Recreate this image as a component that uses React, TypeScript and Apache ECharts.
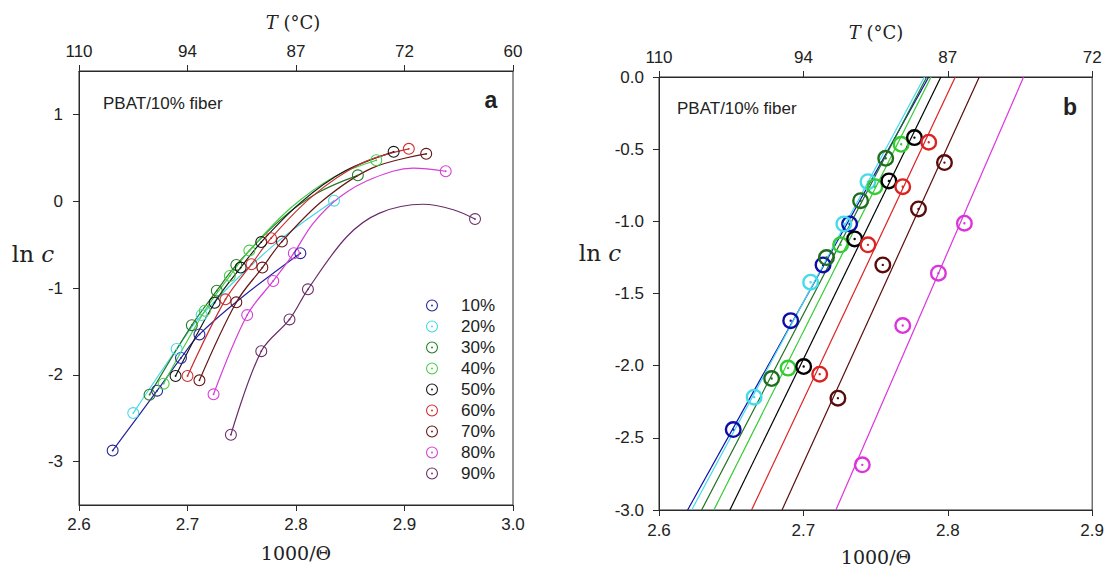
import React, { useEffect, useRef } from "react";
import * as echarts from "echarts";

// ---------- data ----------
const names = ["10%", "20%", "30%", "40%", "50%", "60%", "70%", "80%", "90%"];
const colorsA = ["#22229e", "#44d8e4", "#237a23", "#46cc46", "#151515", "#cc2e2e", "#661414", "#d63cd6", "#6a2c68"];
const colorsB = ["#0c0ca8", "#44dcec", "#1e6e1e", "#33cc33", "#000000", "#dd2222", "#5a0c0c", "#dd33dd", "#6a2c68"];

const xTicksA = ["2.6", "2.7", "2.8", "2.9", "3.0"];
const topTicksA = ["110", "94", "87", "72", "60"];
const yTicksA = [-3, -2, -1, 0, 1];
const xTicksB = ["2.6", "2.7", "2.8", "2.9"];
const topTicksB = ["110", "94", "87", "72"];

// panel a: measured points (1000/Θ, ln c)
const a10 = [[2.631, -2.873], [2.672, -2.183], [2.694, -1.806], [2.711, -1.535], [2.804, -0.599]];
const a20 = [[2.650, -2.441], [2.690, -1.703], [2.713, -1.312], [2.835, 0.006]];
const a30 = [[2.665, -2.229], [2.704, -1.428], [2.727, -1.031], [2.745, -0.734], [2.857, 0.298]];
const a40 = [[2.678, -2.102], [2.716, -1.262], [2.739, -0.861], [2.757, -0.569], [2.874, 0.472]];
const a50 = [[2.689, -2.014], [2.725, -1.170], [2.749, -0.765], [2.768, -0.471], [2.890, 0.569]];
const a60 = [[2.700, -2.014], [2.735, -1.131], [2.759, -0.726], [2.777, -0.426], [2.904, 0.603]];
const a70 = [[2.711, -2.064], [2.745, -1.165], [2.769, -0.765], [2.787, -0.465], [2.920, 0.546]];
const a80 = [[2.724, -2.225], [2.755, -1.312], [2.779, -0.919], [2.798, -0.599], [2.938, 0.345]];
const a90 = [[2.740, -2.691], [2.768, -1.728], [2.794, -1.362], [2.811, -1.015], [2.965, -0.206]];

// panel a: points
const c10 = [[2.631, -2.873], [2.672, -2.183], [2.694, -1.806], [2.711, -1.535], [2.752, -1.09], [2.804, -0.599]];
const c20 = [[2.650, -2.441], [2.690, -1.703], [2.713, -1.312], [2.780, -0.50], [2.835, 0.006]];
const c30 = [[2.665, -2.229], [2.704, -1.428], [2.727, -1.031], [2.745, -0.734], [2.785, -0.221], [2.820, 0.097], [2.857, 0.298]];
const c40 = [[2.678, -2.102], [2.716, -1.262], [2.739, -0.861], [2.757, -0.569], [2.795, -0.079], [2.835, 0.279], [2.874, 0.472]];
const c50 = [[2.689, -2.014], [2.725, -1.170], [2.749, -0.765], [2.768, -0.471], [2.805, -0.008], [2.845, 0.347], [2.890, 0.569]];
const c60 = [[2.700, -2.014], [2.735, -1.131], [2.759, -0.726], [2.777, -0.426], [2.815, 0.056], [2.860, 0.434], [2.904, 0.603]];
const c70 = [[2.711, -2.064], [2.745, -1.165], [2.769, -0.765], [2.787, -0.465], [2.825, 0.011], [2.870, 0.381], [2.920, 0.546]];
const c80 = [[2.724, -2.225], [2.755, -1.312], [2.779, -0.919], [2.798, -0.599], [2.816, -0.252], [2.841, 0.054], [2.871, 0.265], [2.908, 0.380], [2.938, 0.345]];
const c90 = [[2.740, -2.691], [2.768, -1.728], [2.794, -1.362], [2.811, -1.015], [2.847, -0.407], [2.877, -0.137], [2.917, -0.035], [2.945, -0.098], [2.965, -0.206]];

// panel b: measured points
const b10 = [[2.6514, -2.443], [2.6912, -1.688], [2.7136, -1.302], [2.7320, -1.018]];
const b20 = [[2.6659, -2.218], [2.7050, -1.422], [2.7280, -1.018], [2.7447, -0.725]];
const b30 = [[2.6780, -2.089], [2.7160, -1.251], [2.7396, -0.857], [2.7570, -0.563]];
const b40 = [[2.6894, -2.017], [2.7258, -1.163], [2.7495, -0.760], [2.7677, -0.466]];
const b50 = [[2.7002, -2.006], [2.7355, -1.122], [2.7592, -0.720], [2.7769, -0.420]];
const b60 = [[2.7113, -2.059], [2.7447, -1.163], [2.7688, -0.760], [2.7868, -0.452]];
const b70 = [[2.7239, -2.225], [2.7550, -1.302], [2.7797, -0.914], [2.7977, -0.593]];
const b80 = [[2.7408, -2.687], [2.7688, -1.722], [2.7935, -1.359], [2.8115, -1.013]];

// panel b: linear fits, read where each line meets ln c = -3.0 and ln c = 0.0
const fitB = [
  [[2.6198, -3.0], [2.7868, 0.0]],
  [[2.6226, -3.0], [2.7838, 0.0]],
  [[2.6295, -3.0], [2.7854, 0.0]],
  [[2.6380, -3.0], [2.7884, 0.0]],
  [[2.6491, -3.0], [2.7952, 0.0]],
  [[2.6641, -3.0], [2.8052, 0.0]],
  [[2.6852, -3.0], [2.8218, 0.0]],
  [[2.7225, -3.0], [2.8525, 0.0]],
];

const ptsA = [a10, a20, a30, a40, a50, a60, a70, a80, a90];
const curvesA = [c10, c20, c30, c40, c50, c60, c70, c80, c90];
const ptsB = [b10, b20, b30, b40, b50, b60, b70, b80];

// ---------- styling ----------
const ringThin =
  "path://M0 10A10 10 0 1 1 20 10A10 10 0 1 1 0 10Z M1.8 10A8.2 8.2 0 1 0 18.2 10A8.2 8.2 0 1 0 1.8 10Z M8.5 10A1.5 1.5 0 1 1 11.5 10A1.5 1.5 0 1 1 8.5 10Z";
const ringThick =
  "path://M0 10A10 10 0 1 1 20 10A10 10 0 1 1 0 10Z M2.8 10A7.2 7.2 0 1 0 17.2 10A7.2 7.2 0 1 0 2.8 10Z M8.6 10A1.4 1.4 0 1 1 11.4 10A1.4 1.4 0 1 1 8.6 10Z";

const SANS = "'Liberation Sans', Arial, sans-serif";
const SERIF = "'DejaVu Serif', serif";
const AX = "#2a2a2a";

function tickIdx(v: number) {
  return Math.round((v - 2.6) / 0.1);
}

function buildOption() {
  const lbl = { color: "#222", fontFamily: SANS, fontSize: 17 };
  const axisCommon = {
    axisLine: { show: true, onZero: false, lineStyle: { color: AX, width: 1 } },
    axisTick: { show: true, inside: false, length: 6, lineStyle: { color: AX } },
    splitLine: { show: false },
  };

  const xAxis: any[] = [
    {
      ...axisCommon, type: "value", gridIndex: 0, position: "bottom", min: 2.6, max: 3.0, interval: 0.1,
      axisLabel: { ...lbl, margin: 11, formatter: (v: number) => xTicksA[tickIdx(v)] ?? "" },
    },
    {
      ...axisCommon, type: "value", gridIndex: 0, position: "top", min: 2.6, max: 3.0, interval: 0.1,
      axisLabel: { ...lbl, margin: 11, formatter: (v: number) => topTicksA[tickIdx(v)] ?? "" },
    },
    {
      ...axisCommon, type: "value", gridIndex: 1, position: "bottom", min: 2.6, max: 2.9, interval: 0.1,
      axisLabel: { ...lbl, margin: 12, formatter: (v: number) => xTicksB[tickIdx(v)] ?? "" },
    },
    {
      ...axisCommon, type: "value", gridIndex: 1, position: "top", min: 2.6, max: 2.9, interval: 0.1,
      axisLabel: { ...lbl, margin: 11, formatter: (v: number) => topTicksB[tickIdx(v)] ?? "" },
    },
  ];

  const yAxis: any[] = [
    {
      ...axisCommon, type: "value", gridIndex: 0, min: -3.5, max: 1.5,
      axisTick: { ...axisCommon.axisTick, customValues: yTicksA },
      axisLabel: { ...lbl, margin: 16, customValues: yTicksA, formatter: (v: number) => String(Math.round(v)) },
    },
    {
      ...axisCommon, type: "value", gridIndex: 1, min: -3.0, max: 0.0, interval: 0.5,
      axisLabel: { ...lbl, margin: 15, formatter: (v: number) => v.toFixed(1) },
    },
  ];

  const series: any[] = [];
  names.forEach((n, i) => {
    series.push({
      type: "line", name: n + " fit a", xAxisIndex: 0, yAxisIndex: 0, data: curvesA[i],
      smooth: 0.35, showSymbol: false, symbol: "none", silent: true,
      lineStyle: { color: colorsA[i], width: 1.2 }, z: 2,
    });
    series.push({
      type: "scatter", name: n, xAxisIndex: 0, yAxisIndex: 0, data: ptsA[i],
      symbol: ringThin, symbolSize: 12, itemStyle: { color: colorsA[i], opacity: 1 }, z: 3,
    });
  });
  ptsB.forEach((pts, i) => {
    series.push({
      type: "line", name: names[i] + " fit b", xAxisIndex: 2, yAxisIndex: 1, data: fitB[i],
      showSymbol: false, symbol: "none", silent: true,
      lineStyle: { color: colorsB[i], width: 1.2 }, z: 2,
    });
    series.push({
      type: "scatter", name: names[i] + " b", xAxisIndex: 2, yAxisIndex: 1, data: pts,
      symbol: ringThick, symbolSize: 17, itemStyle: { color: colorsB[i], opacity: 1 }, z: 3,
    });
  });

  const rich = (size: number) => ({
    i: { fontFamily: SERIF, fontStyle: "italic", fontSize: size, fill: "#222", color: "#222" },
    r: { fontFamily: SERIF, fontSize: size, fill: "#222", color: "#222" },
  });

  const txt = (x: number, y: number, text: string, font: any, align = "center") => ({
    type: "text", x, y, silent: true,
    style: { text, align, verticalAlign: "middle", fill: "#222", ...font },
  });

  const graphic: any[] = [
    txt(293, 22, "{i|T}{r| (°C)}", { rich: rich(18) }),
    txt(876, 32, "{i|T}{r| (°C)}", { rich: rich(18) }),
    txt(296, 553, "1000/Θ", { fontFamily: SERIF, fontSize: 19 }),
    txt(876, 557, "1000/Θ", { fontFamily: SERIF, fontSize: 19 }),
    txt(33, 254, "{r|ln }{i|c}", { rich: rich(23) }),
    txt(600, 253, "{r|ln }{i|c}", { rich: rich(23) }),
    txt(103, 103, "PBAT/10% fiber", { fontFamily: SANS, fontSize: 17 }, "left"),
    txt(677, 108, "PBAT/10% fiber", { fontFamily: SANS, fontSize: 17 }, "left"),
    txt(491, 100, "a", { fontFamily: SANS, fontSize: 23, fontWeight: "bold" }),
    txt(1070, 107, "b", { fontFamily: SANS, fontSize: 23, fontWeight: "bold" }),
  ];

  return {
    animation: false,
    backgroundColor: "#ffffff",
    grid: [
      { left: 79, top: 71, width: 434, height: 434, show: true, borderColor: AX, borderWidth: 1, backgroundColor: "transparent" },
      { left: 659, top: 77, width: 434, height: 433, show: true, borderColor: AX, borderWidth: 1, backgroundColor: "transparent" },
    ],
    xAxis,
    yAxis,
    legend: {
      show: true,
      orient: "vertical",
      left: 426,
      top: 297,
      padding: 0,
      itemWidth: 12,
      itemHeight: 12,
      itemGap: 4,
      selectedMode: false,
      data: names.map((n, i) => ({ name: n, icon: ringThin, itemStyle: { color: colorsA[i] } })),
      textStyle: { fontFamily: SANS, fontSize: 17, color: "#222", padding: [0, 0, 0, 18] },
    },
    graphic,
    series,
  };
}

export default function App() {
  const ref = useRef<HTMLDivElement>(null);
  useEffect(() => {
    if (!ref.current) return;
    const chart = echarts.init(ref.current, undefined, { renderer: "svg" });
    chart.setOption(buildOption() as any);
    return () => chart.dispose();
  }, []);
  return (
    <div
      ref={ref}
      style={{ position: "fixed", left: 0, top: 0, width: 1107, height: 571, background: "#fff" }}
    />
  );
}
